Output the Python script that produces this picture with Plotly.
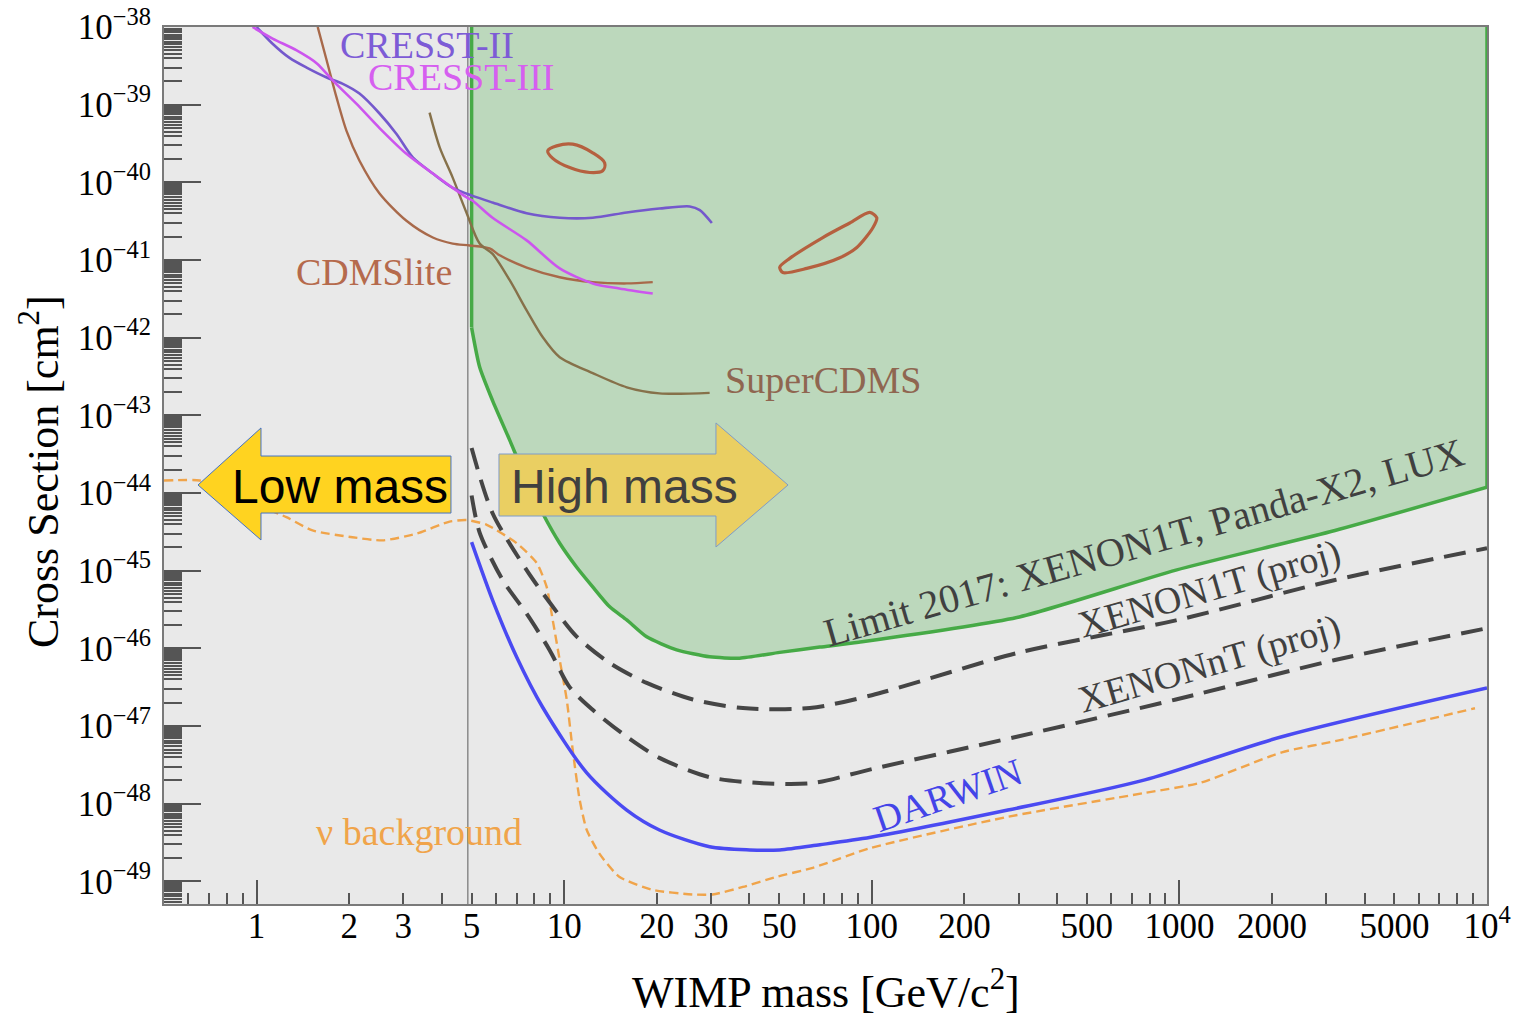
import math
import plotly.graph_objects as go

# Axis extents: WIMP mass [GeV/c^2] and cross section [cm^2]
MASS_MIN, MASS_MAX = 0.5, 1.0e4
LOG_XS_MIN, LOG_XS_MAX = -49.29, -38.0

# Low/high-mass boundary
boundary_mass = 4.86

# 2017 limit (XENON1T, PandaX-II, LUX): excluded region above this curve
limit_mass = [5.0, 5.0, 5.31, 5.85, 6.65, 7.55, 8.51, 9.67, 10.98, 12.38, 14.06,
              15.97, 18.54, 23.2, 29.7, 37.2, 50.2, 67.8, 90.7, 296, 974, 3204,
              1.0e4, 1.0e4]
limit_xs = [1e-38, 1.35e-42, 4.2e-43, 1.55e-43, 4.8e-44, 1.46e-44, 5.5e-45,
            2.26e-45, 1.11e-45, 6.2e-46, 3.43e-46, 2.33e-46, 1.41e-46, 9.6e-47,
            7.8e-47, 7.5e-47, 8.9e-47, 1.04e-46, 1.2e-46, 2.5e-46, 1.02e-45,
            3.3e-45, 1.19e-44, 1e-38]

# XENON1T projected sensitivity
x1t_mass = [5.0, 5.85, 7.55, 8.97, 10.98, 14.06, 18.54, 26.2, 38.1, 62.9, 100,
            296, 974, 3204, 1.0e4]
x1t_xs = [3.8e-44, 5.5e-45, 1.02e-45, 3.9e-46, 1.42e-46, 6.5e-47, 3.6e-47,
          2.2e-47, 1.71e-47, 1.71e-47, 2.5e-47, 8.7e-47, 2.3e-46, 7.6e-46, 1.95e-45]

# XENONnT projected sensitivity
xnt_mass = [5.0, 5.31, 6.31, 7.55, 8.97, 10.4, 12.38, 15.97, 20.4, 29.7, 43.2,
            64.3, 100, 296, 974, 3204, 1.0e4]
xnt_xs = [9.3e-45, 3.1e-45, 7.6e-46, 2.8e-46, 9.5e-47, 3.2e-47, 1.62e-47, 7.3e-48,
          3.9e-48, 2.2e-48, 1.85e-48, 1.85e-48, 2.8e-48, 7.3e-48, 2.2e-47,
          7.1e-47, 1.82e-46]

# DARWIN projected sensitivity
darwin_mass = [5.0, 5.85, 7.01, 8.51, 11.84, 15.97, 20.4, 29.7, 40.1, 50.2, 67.8,
               99.2, 277, 772, 2153, 1.0e4]
darwin_xs = [2.34e-45, 4.2e-46, 7.7e-47, 1.75e-47, 2.5e-48, 8.3e-49, 4.6e-49,
             2.8e-49, 2.55e-49, 2.55e-49, 2.97e-49, 3.7e-49, 8.3e-49, 2.03e-48,
             7.3e-48, 3.1e-47]

# Neutrino background (coherent neutrino scattering floor)
nu_mass = [0.5, 0.653, 0.817, 1.02, 1.25, 1.52, 2.05, 2.57, 3.31, 4.24, 4.82, 5.6,
           7.01, 8.14, 8.77, 9.18, 9.67, 10.19, 10.66, 11.23, 11.84, 13.0, 15.1,
           19.4, 26.2, 30.4, 38.1, 49.1, 64.3, 99.2, 277, 772, 1166, 2153, 3327,
           9140]
nu_xs = [1.45e-44, 1.45e-44, 1.09e-44, 6.9e-45, 4.9e-45, 3.3e-45, 2.7e-45,
         2.46e-45, 3.0e-45, 4.3e-45, 4.5e-45, 3.9e-45, 2.26e-45, 1.26e-45,
         6.2e-46, 2.3e-46, 7.1e-47, 2.2e-47, 4.9e-48, 1.12e-48, 4.6e-49, 2.3e-49,
         1.15e-49, 7.8e-50, 6.8e-50, 6.8e-50, 8.5e-50, 1.15e-49, 1.5e-49,
         2.7e-49, 6.8e-49, 1.38e-48, 1.86e-48, 4.6e-48, 6.6e-48, 1.7e-47]

# CRESST-II limit
cresst2_mass = [1.0, 1.127, 1.28, 1.454, 1.69, 1.90, 2.16, 2.51, 2.85, 3.22, 3.74,
                4.34, 5.04, 5.85, 7.55, 9.67, 12.38, 15.97, 20.4, 25.6, 27.6, 30.2]
cresst2_xs = [1.0e-38, 6.1e-39, 4.0e-39, 3.0e-39, 2.24e-39, 1.87e-39, 1.39e-39,
              7.7e-40, 4.2e-40, 2.1e-40, 1.3e-40, 8.5e-41, 6.7e-41, 5.5e-41,
              4.0e-41, 3.5e-41, 3.5e-41, 4.1e-41, 4.6e-41, 4.9e-41, 4.4e-41, 3.0e-41]

# CRESST-III limit
cresst3_mass = [0.97, 1.127, 1.35, 1.57, 1.77, 2.11, 2.51, 3.07, 3.74, 4.34, 4.82,
                5.04, 5.85, 7.55, 9.67, 12.38, 15.1, 19.4]
cresst3_xs = [1.0e-38, 7.1e-39, 5.0e-39, 3.4e-39, 2.04e-39, 1.03e-39, 5.0e-40,
              2.33e-40, 1.3e-40, 8.5e-41, 6.4e-41, 5.8e-41, 3.5e-41, 1.79e-41,
              7.8e-42, 5.0e-42, 4.3e-42, 3.7e-42]

# CDMSlite limit
cdmslite_mass = [1.58, 1.69, 1.82, 1.96, 2.16, 2.51, 3.07, 3.74, 4.34, 4.93, 5.72,
                 6.17, 7.55, 9.67, 12.38, 15.97, 19.4]
cdmslite_xs = [1.0e-38, 3.7e-39, 1.23e-39, 4.6e-40, 1.9e-40, 7.2e-41, 3.2e-41,
               1.95e-41, 1.63e-41, 1.54e-41, 1.41e-41, 1.15e-41, 8.0e-42, 6.0e-42,
               5.2e-42, 5.0e-42, 5.2e-42]

# SuperCDMS limit
supercdms_mass = [3.65, 3.94, 4.34, 4.82, 5.31, 5.85, 6.65, 7.55, 8.51, 9.67, 12.38,
                  15.97, 20.4, 29.7]
supercdms_xs = [7.9e-40, 2.8e-40, 1.15e-40, 4.0e-41, 1.63e-41, 1.2e-41, 5.5e-42,
                2.25e-42, 1.02e-42, 5.6e-43, 3.5e-43, 2.3e-43, 1.92e-43, 1.95e-43]

# Signal-claim contours (closed regions)
region_a_mass = [8.84, 9.45, 10.66, 12.38, 13.54, 13.34, 12.1, 10.42, 9.18, 8.84]
region_a_xs = [2.55e-40, 2.95e-40, 3.1e-40, 2.4e-40, 1.78e-40, 1.41e-40, 1.34e-40,
               1.55e-40, 2.04e-40, 2.55e-40]
region_b_mass = [50.2, 54.1, 69.3, 84.8, 98.5, 103.8, 100.8, 89.4, 78.7, 61.5, 51.4,
                 50.2]
region_b_xs = [8.1e-42, 1.05e-41, 1.95e-41, 3.0e-41, 4.1e-41, 3.5e-41, 2.6e-41,
               1.45e-41, 1.07e-41, 7.8e-42, 6.9e-42, 8.1e-42]

# Tick labels
x_tick_vals = [1, 2, 3, 5, 10, 20, 30, 50, 100, 200, 500, 1000, 2000, 5000, 10000]
x_tick_text = ["1", "2", "3", "5", "10", "20", "30", "50", "100", "200", "500",
               "1000", "2000", "5000", "10<sup>4</sup>"]
x_decades = [1, 10, 100, 1000]
y_exponents = list(range(-49, -37))

SERIF = "Liberation Serif"
SANS = "Liberation Sans"
LIMIT_GREEN = "#46aa46"


def curve(x, y, color, width, dash=None, smoothing=0.8, shape="spline"):
    line = dict(color=color, width=width, shape=shape)
    if shape == "spline":
        line["smoothing"] = smoothing
    if dash:
        line["dash"] = dash
    return go.Scatter(x=x, y=y, mode="lines", line=line, hoverinfo="skip")


fig = go.Figure()

# Excluded region (fill only)
fig.add_trace(go.Scatter(x=limit_mass, y=limit_xs, mode="lines", fill="toself",
                         fillcolor="#bcd8bc", line=dict(width=0),
                         hoverinfo="skip"))
# Its boundary: straight vertical edges plus the smooth limit curve
fig.add_trace(curve(limit_mass[:2], limit_xs[:2], LIMIT_GREEN, 3.5, shape="linear"))
fig.add_trace(curve(limit_mass[-2:], limit_xs[-2:], LIMIT_GREEN, 3.5, shape="linear"))
fig.add_trace(curve(limit_mass[1:-1], limit_xs[1:-1], LIMIT_GREEN, 3.5,
                    smoothing=0.6))

# Low/high-mass divider
fig.add_trace(go.Scatter(x=[boundary_mass, boundary_mass], y=[1e-50, 1e-37],
                         mode="lines", line=dict(color="#8a8a8a", width=1.5)))

# Existing low-mass limits
fig.add_trace(curve(cdmslite_mass, cdmslite_xs, "#a8694a", 2.4))
fig.add_trace(curve(supercdms_mass, supercdms_xs, "#86714a", 2.4))
fig.add_trace(curve(cresst2_mass, cresst2_xs, "#7458cc", 2.6))
fig.add_trace(curve(cresst3_mass, cresst3_xs, "#cc55ee", 2.6))

# Signal-claim contours
fig.add_trace(curve(region_a_mass, region_a_xs, "#b5603f", 3.2, smoothing=1.0))
fig.add_trace(curve(region_b_mass, region_b_xs, "#b5603f", 3.2, smoothing=0.8))

# Neutrino background
fig.add_trace(curve(nu_mass, nu_xs, "#f0a44a", 2.4, dash="9px,5px", smoothing=0.6))

# Projected sensitivities
fig.add_trace(curve(x1t_mass, x1t_xs, "#454545", 4, dash="22px,11px"))
fig.add_trace(curve(xnt_mass, xnt_xs, "#454545", 4, dash="22px,11px"))
fig.add_trace(curve(darwin_mass, darwin_xs, "#4a4af2", 3.5))

# Helper trace so the overlaid decade-tick axis is drawn
fig.add_trace(go.Scatter(x=[None], y=[None], xaxis="x2", mode="lines"))

log_x_range = [math.log10(MASS_MIN), math.log10(MASS_MAX)]
minor_x = [k * 10.0 ** n for n in range(-1, 4) for k in range(2, 10)
           if MASS_MIN < k * 10.0 ** n < MASS_MAX]
minor_y = [k * 10.0 ** n for n in range(-50, -38)
           for k in (2, 3, 4, 4.5, 5, 5.5, 6, 6.5, 7, 7.5, 8, 8.5, 9, 9.5)]

tick_font = dict(family=SERIF, size=35, color="black")
axis_line = dict(showline=True, linecolor="#7a7a7a", linewidth=2, mirror=True,
                 showgrid=False, zeroline=False)

fig.update_layout(
    width=1528, height=1019,
    margin=dict(l=164, r=41, t=27, b=115, autoexpand=False),
    paper_bgcolor="white", plot_bgcolor="#e9e9e9", showlegend=False,
    xaxis=dict(type="log", range=log_x_range, tickmode="array",
               tickvals=x_tick_vals, ticktext=x_tick_text, ticks="inside",
               ticklen=11, tickwidth=1.5, tickcolor="#555", tickfont=tick_font,
               ticklabelstandoff=-10,
               minor=dict(tickmode="array", tickvals=minor_x, ticks="inside",
                          ticklen=11, tickwidth=1.5, tickcolor="#555",
                          showgrid=False),
               **axis_line),
    xaxis2=dict(type="log", range=log_x_range, overlaying="x", anchor="y",
                side="bottom", tickmode="array", tickvals=x_decades,
                ticks="inside", ticklen=24, tickwidth=1.5, tickcolor="#555",
                showticklabels=False, showline=False, showgrid=False,
                zeroline=False),
    yaxis=dict(type="log", range=[LOG_XS_MIN, LOG_XS_MAX], tickmode="array",
               tickvals=[10.0 ** e for e in y_exponents],
               ticktext=["10<sup>\u2212%d</sup>" % (-e) for e in y_exponents],
               ticks="inside", ticklen=37, tickwidth=1.5, tickcolor="#555",
               tickfont=tick_font, ticklabelstandoff=4,
               minor=dict(tickmode="array", tickvals=minor_y, ticks="inside",
                          ticklen=18, tickwidth=1.5, tickcolor="#555",
                          showgrid=False),
               **axis_line),
)

# Low / high mass arrows
fig.add_shape(type="path", xref="paper", yref="paper", layer="above",
              path="M 0.0257,0.4778 L 0.0733,0.5428 L 0.0733,0.5108 L 0.2169,0.5108 "
                   "L 0.2169,0.4458 L 0.0733,0.4458 L 0.0733,0.4151 Z",
              fillcolor="#ffd320", line=dict(color="#4472c4", width=1))
fig.add_shape(type="path", xref="paper", yref="paper", layer="above",
              path="M 0.2532,0.5131 L 0.4172,0.5131 L 0.4172,0.5485 L 0.4717,0.4778 "
                   "L 0.4172,0.4071 L 0.4172,0.4424 L 0.2532,0.4424 Z",
              fillcolor="#eacf62", line=dict(color="#7f9cc8", width=1))


def label(text, x, y, color, size=38, angle=0, family=SERIF):
    fig.add_annotation(text=text, x=x, y=y, xref="paper", yref="paper",
                       showarrow=False, textangle=angle, xanchor="center",
                       yanchor="middle", font=dict(family=family, size=size,
                                                   color=color))


label("Low mass", 0.133, 0.4766, "black", size=48, family=SANS)
label("High mass", 0.3484, 0.4755, "#404040", size=48, family=SANS)

label("CRESST-II", 0.1988, 0.9795, "#7d5bd6")
label("CRESST-III", 0.2245, 0.943, "#d65ff0")
label("CDMSlite", 0.1587, 0.7206, "#b56a4c")
label("SuperCDMS", 0.4981, 0.5975, "#8f6650")
label("\u03bd background", 0.1927, 0.0821, "#f0a44a")
label("Limit 2017: XENON1T, Panda-X2, LUX", 0.7407, 0.4124, "#404040", size=40,
      angle=-16)
label("XENON1T (proj)", 0.7906, 0.360, "#404040", angle=-16)
label("XENONnT (proj)", 0.7906, 0.2744, "#404040", angle=-16)
label("DARWIN", 0.5926, 0.124, "#4444e8", angle=-19)

# Axis titles
label("WIMP mass [GeV/c<sup>2</sup>]", 0.5, -0.098, "black", size=44)
label("Cross Section [cm<sup>2</sup>]", -0.0937, 0.4926, "black", size=44, angle=-90)

fig.write_html("out.html")
